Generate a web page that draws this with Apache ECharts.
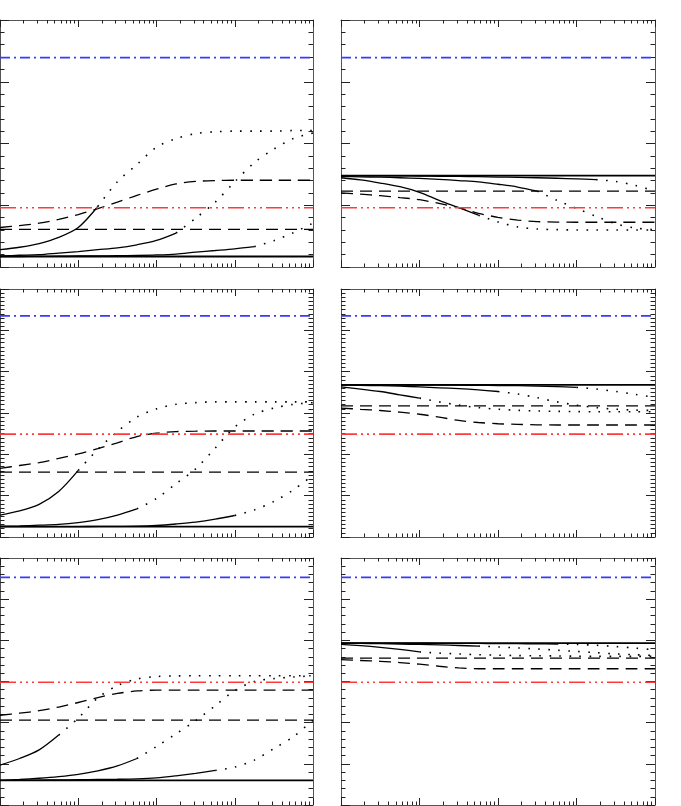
<!DOCTYPE html>
<html><head><meta charset="utf-8">
<script src="https://cdn.jsdelivr.net/npm/echarts@6/dist/echarts.min.js"></script>
<style>html,body{margin:0;padding:0;background:#fff}#c{width:681px;height:806px}</style>
</head><body><div id="c"></div>
<script>
// sample x positions (log axis, 4 decades)
const xs = [1, 1.778, 3.162, 5.623, 10, 17.78, 31.62, 56.23, 100, 177.8, 316.2, 562.3, 1000, 1778, 3162, 5623, 10000];
const minorMultipliers = [2, 3, 4, 5, 6, 7, 8, 9];

// panel order: top-left, top-right, middle-left, middle-right, bottom-left, bottom-right
const solidLevel  = [0.17, 1.48, 0.25, 3.68, 0.60, 3.93];
const dashedLevel = [0.61, 1.23, 1.57, 3.17, 2.06, 3.57];
const blueLevel   = [3.39, 3.39, 5.35, 5.35, 5.53, 5.53];
const redLevel    = [0.96, 0.96, 2.49, 2.49, 2.98, 2.98];

const p1_dashed = [0.64,0.67,0.71,0.77,0.85,0.945,1.05,1.16,1.26,1.345,1.385,1.40,1.405,1.405,1.405,1.405,1.405];
const p1_a = [0.28,0.32,0.38,0.48,0.64,0.98,1.38,1.66,1.94,2.08,2.16,2.19,2.20,2.20,2.20,2.21,2.21];
const p1_b = [0.18,0.19,0.20,0.225,0.25,0.28,0.31,0.36,0.43,0.55,0.79,1.05,1.38,1.69,1.91,2.08,2.17];
const p1_c = [0.17,0.17,0.172,0.175,0.178,0.18,0.183,0.187,0.195,0.21,0.24,0.267,0.295,0.33,0.426,0.556,0.71];
const p1_split = [17.78, 177.8, 1778];

const p2_dashed = [1.20,1.18,1.155,1.125,1.09,1.03,0.96,0.87,0.805,0.76,0.735,0.727,0.725,0.725,0.725,0.725,0.725];
const p2_a = [1.445,1.41,1.36,1.30,1.21,1.08,0.96,0.84,0.73,0.65,0.615,0.605,0.60,0.60,0.60,0.60,0.60];
const p2_b = [1.465,1.46,1.455,1.445,1.435,1.42,1.40,1.38,1.34,1.295,1.23,1.08,0.95,0.82,0.70,0.63,0.605];
const p2_c = [1.48,1.48,1.478,1.476,1.474,1.47,1.466,1.462,1.457,1.452,1.445,1.437,1.427,1.415,1.385,1.32,1.23];
const p2_split = [56.23, 316.2, 1778];

const p3_dashed = [1.66,1.73,1.80,1.90,2.01,2.14,2.28,2.43,2.51,2.55,2.56,2.565,2.565,2.565,2.565,2.565,2.565];
const p3_a = [0.53,0.63,0.79,1.10,1.61,2.12,2.55,2.90,3.10,3.21,3.25,3.27,3.27,3.27,3.27,3.27,3.27];
const p3_b = [0.26,0.27,0.285,0.305,0.35,0.42,0.53,0.68,0.93,1.29,1.65,2.15,2.66,2.97,3.12,3.21,3.25];
const p3_c = [0.25,0.25,0.25,0.25,0.252,0.255,0.258,0.262,0.28,0.315,0.36,0.43,0.52,0.655,0.86,1.14,1.50];
const p3_split = [10, 56.23, 1000];

const p4_dashed = [3.12,3.09,3.06,3.02,2.97,2.90,2.82,2.77,2.74,2.725,2.715,2.71,2.71,2.71,2.71,2.71,2.71];
const p4_a = [3.63,3.58,3.52,3.44,3.36,3.27,3.19,3.13,3.09,3.065,3.05,3.04,3.035,3.03,3.03,3.03,3.03];
const p4_b = [3.675,3.67,3.66,3.65,3.63,3.61,3.59,3.56,3.52,3.46,3.37,3.27,3.19,3.13,3.09,3.07,3.06];
const p4_c = [3.68,3.68,3.68,3.678,3.676,3.674,3.672,3.67,3.665,3.66,3.65,3.64,3.62,3.58,3.52,3.45,3.38];
const p4_split = [10, 100, 1000];

const p5_dashed = [2.18,2.23,2.29,2.38,2.49,2.61,2.71,2.77,2.79,2.79,2.79,2.79,2.79,2.79,2.79,2.79,2.79];
const p5_a = [0.97,1.13,1.34,1.70,2.11,2.60,2.90,3.06,3.12,3.135,3.14,3.14,3.14,3.14,3.14,3.14,3.14];
const p5_b = [0.60,0.62,0.65,0.69,0.745,0.83,0.95,1.13,1.42,1.73,2.05,2.41,2.78,3.00,3.07,3.11,3.14];
const p5_c = [0.60,0.60,0.605,0.61,0.615,0.62,0.625,0.635,0.66,0.71,0.77,0.84,0.92,1.09,1.37,1.66,2.06];
const p5_split = [5.623, 56.23, 562.3];

const p6_dashed = [3.53,3.51,3.49,3.46,3.42,3.37,3.33,3.31,3.31,3.31,3.31,3.31,3.31,3.31,3.31,3.31,3.31];
const p6_a = [3.90,3.87,3.83,3.78,3.72,3.69,3.67,3.65,3.64,3.63,3.625,3.62,3.615,3.61,3.61,3.61,3.61];
const p6_b = [3.93,3.925,3.92,3.91,3.90,3.89,3.875,3.86,3.84,3.815,3.79,3.76,3.73,3.70,3.67,3.65,3.63];
const p6_c = [3.93,3.93,3.93,3.93,3.93,3.928,3.926,3.924,3.92,3.918,3.915,3.91,3.90,3.88,3.85,3.81,3.77];
const p6_split = [10, 56.23, 562.3];

const yMax = [4, 6, 6];          // per row
const yMinorSplit = [5, 10, 5];  // per row

const panels = [
  {dashed: p1_dashed, curves: [p1_a, p1_b, p1_c], splits: p1_split},
  {dashed: p2_dashed, curves: [p2_a, p2_b, p2_c], splits: p2_split},
  {dashed: p3_dashed, curves: [p3_a, p3_b, p3_c], splits: p3_split},
  {dashed: p4_dashed, curves: [p4_a, p4_b, p4_c], splits: p4_split},
  {dashed: p5_dashed, curves: [p5_a, p5_b, p5_c], splits: p5_split},
  {dashed: p6_dashed, curves: [p6_a, p6_b, p6_c], splits: p6_split}
];

const gridRects = [
  {left: 0, top: 20, width: 313, height: 247},
  {left: 341, top: 20, width: 314, height: 247},
  {left: 0, top: 289, width: 313, height: 248},
  {left: 341, top: 289, width: 314, height: 248},
  {left: 0, top: 558, width: 313, height: 247},
  {left: 341, top: 558, width: 314, height: 247}
];

const minorPos = [];
for (let d = 0; d < 4; d++) minorMultipliers.forEach(m => minorPos.push(d + Math.log10(m)));

const FRAME = '#555', TICK = '#222';
const DASH = [12, 7], DOT = [1.6, 8.4];
const BLUE_DASH = [10, 4, 2, 4];
const RED_DASH = [16, 4, 2, 4, 2, 4, 2, 4];

const grids = [], xAxes = [], yAxes = [], series = [];
gridRects.forEach((r, g) => {
  grids.push(Object.assign({outerBoundsMode: 'none', containLabel: false}, r));
  const row = Math.floor(g / 2);
  xAxes.push({type: 'log', logBase: 10, min: xs[0], max: xs[xs.length - 1], gridIndex: g, position: 'bottom', show: false});
  ['bottom', 'top'].forEach(pos => {
    xAxes.push({type: 'value', min: 0, max: 4, interval: 1, gridIndex: g, position: pos,
      axisLine: {show: true, onZero: false, lineStyle: {color: FRAME, width: 1}},
      axisTick: {show: true, inside: true, length: 7, lineStyle: {color: TICK, width: 1}},
      axisLabel: {show: false}, splitLine: {show: false}});
    xAxes.push({type: 'value', min: 0, max: 4, gridIndex: g, position: pos,
      axisLine: {show: false, onZero: false},
      axisTick: {show: true, inside: true, length: 3.5, customValues: minorPos, lineStyle: {color: TICK, width: 1}},
      axisLabel: {show: false}, splitLine: {show: false}});
  });
  ['left', 'right'].forEach(pos => {
    yAxes.push({type: 'value', min: 0, max: yMax[row], interval: 1, gridIndex: g, position: pos,
      axisLine: {show: true, onZero: false, lineStyle: {color: FRAME, width: 1}},
      axisTick: {show: true, inside: true, length: 9, lineStyle: {color: TICK, width: 1}},
      minorTick: {show: true, splitNumber: yMinorSplit[row], length: 4.5, lineStyle: {color: TICK, width: 1}},
      axisLabel: {show: false}, splitLine: {show: false}, minorSplitLine: {show: false}});
  });

  const xi = 5 * g, yi = 2 * g;
  const base = {type: 'line', xAxisIndex: xi, yAxisIndex: yi, symbol: 'none', silent: true};
  const hline = (lvl, style) => Object.assign({}, base, {data: [[xs[0], lvl], [xs[xs.length - 1], lvl]], lineStyle: style});
  const P = panels[g];

  series.push(hline(solidLevel[g], {color: '#000', width: 1.8}));
  series.push(hline(dashedLevel[g], {color: '#000', width: 1.3, type: DASH}));
  series.push(Object.assign({}, base, {data: xs.map((x, i) => [x, P.dashed[i]]), smooth: 0.3,
    lineStyle: {color: '#000', width: 1.3, type: DASH}}));
  P.curves.forEach((ys, k) => {
    const sp = P.splits[k];
    const solid = [], dotted = [];
    xs.forEach((x, i) => { if (x <= sp) solid.push([x, ys[i]]); if (x >= sp) dotted.push([x, ys[i]]); });
    series.push(Object.assign({}, base, {data: solid, smooth: 0.3, lineStyle: {color: '#000', width: 1.3}}));
    series.push(Object.assign({}, base, {data: dotted, smooth: 0.3, lineStyle: {color: '#000', width: 1.6, type: DOT}}));
  });
  series.push(hline(blueLevel[g], {color: '#3a3aff', width: 1.6, type: BLUE_DASH}));
  series.push(hline(redLevel[g], {color: '#ff3a3a', width: 1.6, type: RED_DASH}));
});

const chart = echarts.init(document.getElementById('c'), null, {renderer: 'canvas'});
chart.setOption({animation: false, backgroundColor: '#fff', grid: grids, xAxis: xAxes, yAxis: yAxes, series: series});
</script>
</body></html>
